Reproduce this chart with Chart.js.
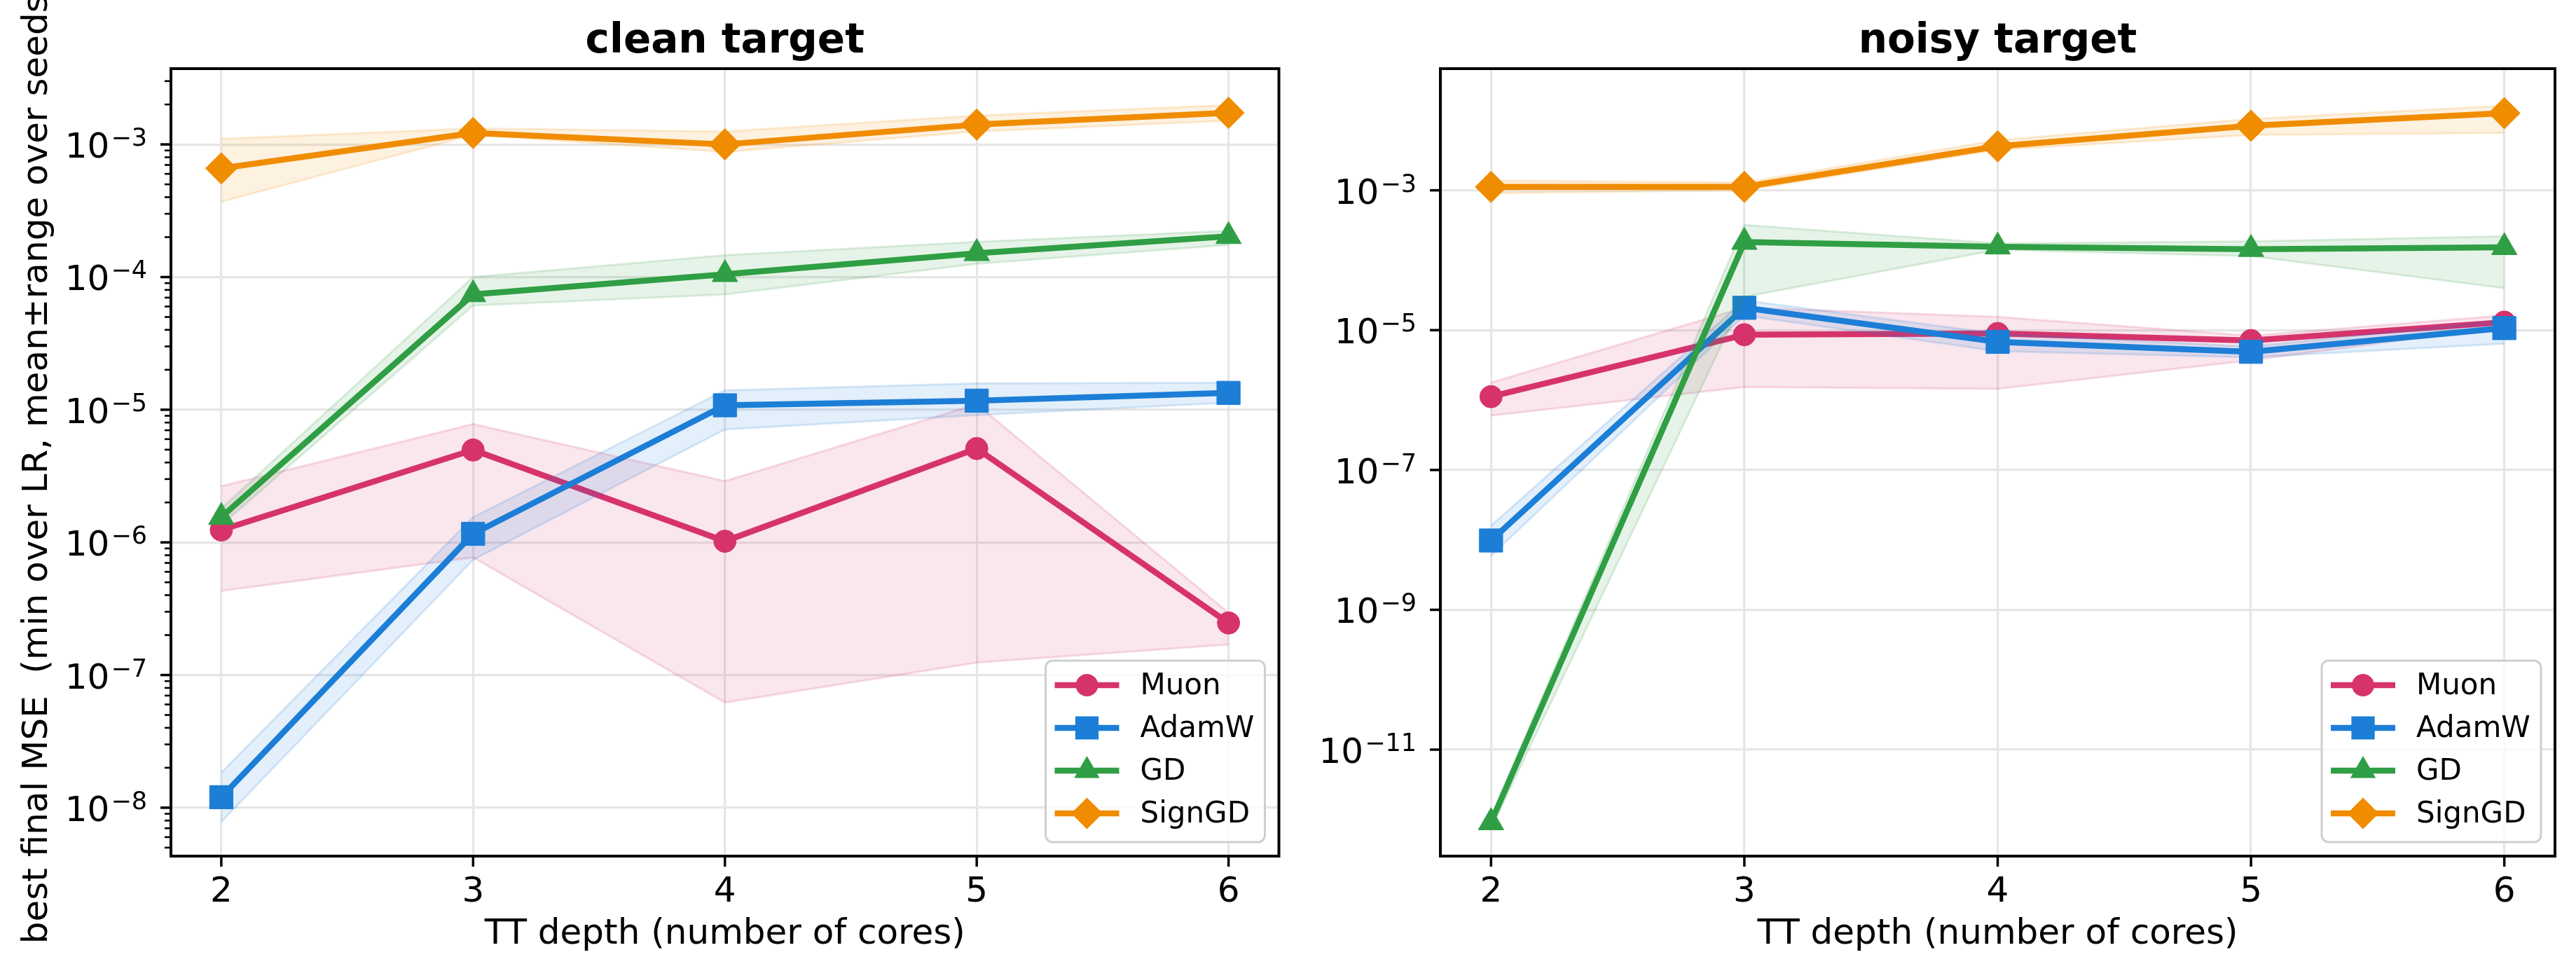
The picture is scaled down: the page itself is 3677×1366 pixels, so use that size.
<!DOCTYPE html>
<html>
<head>
<meta charset="utf-8">
<script src="https://cdn.jsdelivr.net/npm/chart.js@4.4.1/dist/chart.umd.min.js"></script>
<style>
  html, body { margin: 0; padding: 0; background: #fff; }
  #wrap { position: relative; width: 3677px; height: 1366px; overflow: hidden; }
  canvas { position: absolute; top: 0; }
</style>
</head>
<body>
<div id="wrap">
  <canvas id="chartClean" width="1850" height="1366" style="left:0px"></canvas>
  <canvas id="chartNoisy" width="1827" height="1366" style="left:1850px"></canvas>
</div>
<script>
// values (log scale, mean and min/max over seeds)
const depths = [2, 3, 4, 5, 6];
const seriesNames = ["Muon", "AdamW", "GD", "SignGD"];

// clean target
const cleanMuon = [1.24e-6, 4.97e-6, 1.02e-6, 5.1e-6, 2.47e-7];
const cleanMuonLo = [4.3e-7, 7.7e-7, 6.2e-8, 1.24e-7, 1.7e-7];
const cleanMuonHi = [2.65e-6, 7.8e-6, 2.9e-6, 1.1e-5, 2.95e-7];
const cleanAdamW = [1.2e-8, 1.16e-6, 1.08e-5, 1.17e-5, 1.34e-5];
const cleanAdamWLo = [7.8e-9, 7.4e-7, 7.1e-6, 9.1e-6, 1.13e-5];
const cleanAdamWHi = [1.84e-8, 1.55e-6, 1.4e-5, 1.58e-5, 1.6e-5];
const cleanGD = [1.55e-6, 7.4e-5, 1.05e-4, 1.51e-4, 2.03e-4];
const cleanGDLo = [1.35e-6, 6.1e-5, 7.4e-5, 1.26e-4, 1.75e-4];
const cleanGDHi = [1.8e-6, 1.0e-4, 1.46e-4, 1.84e-4, 2.23e-4];
const cleanSign = [6.6e-4, 1.22e-3, 1.0e-3, 1.41e-3, 1.73e-3];
const cleanSignLo = [3.7e-4, 1.18e-3, 8.8e-4, 1.25e-3, 1.51e-3];
const cleanSignHi = [1.1e-3, 1.32e-3, 1.25e-3, 1.65e-3, 1.98e-3];

// noisy target
const noisyMuon = [1.12e-6, 8.6e-6, 8.95e-6, 7.1e-6, 1.3e-5];
const noisyMuonLo = [6.0e-7, 1.53e-6, 1.45e-6, 3.7e-6, 1.13e-5];
const noisyMuonHi = [1.78e-6, 2.1e-5, 1.55e-5, 8.3e-6, 1.62e-5];
const noisyAdamW = [9.8e-9, 2.09e-5, 6.8e-6, 4.9e-6, 1.07e-5];
const noisyAdamWLo = [5.9e-9, 1.62e-5, 5.0e-6, 4.1e-6, 6.4e-6];
const noisyAdamWHi = [1.6e-8, 2.66e-5, 8.9e-6, 5.8e-6, 1.39e-5];
const noisyGD = [9.1e-13, 1.82e-4, 1.56e-4, 1.44e-4, 1.53e-4];
const noisyGDLo = [7.5e-13, 3.0e-5, 1.41e-4, 1.15e-4, 4.0e-5];
const noisyGDHi = [1.1e-12, 3.2e-4, 1.74e-4, 1.86e-4, 2.2e-4];
const noisySign = [1.12e-3, 1.12e-3, 4.27e-3, 8.4e-3, 1.27e-2];
const noisySignLo = [9.1e-4, 1.0e-3, 3.8e-3, 6.2e-3, 6.6e-3];
const noisySignHi = [1.38e-3, 1.29e-3, 5.2e-3, 1.05e-2, 1.62e-2];

// tick positions
const cleanMajorTicks = [1e-8, 1e-7, 1e-6, 1e-5, 1e-4, 1e-3];
const noisyMajorTicks = [1e-11, 1e-9, 1e-7, 1e-5, 1e-3];

const FONT = "DejaVu Sans";
const GRID = "#e6e6e6";
const COLORS = { Muon: "#d6336c", AdamW: "#1c7ed6", GD: "#2f9e44", SignGD: "#f08c00" };
const MARKERS = {
  Muon: { style: "circle", r: 16 },
  AdamW: { style: "rect", r: 23.5 },
  GD: { style: "triangle", r: 21 },
  SignGD: { style: "rectRot", r: 22.5 },
};

Chart.defaults.font.family = FONT;
Chart.defaults.color = "#000";

function rgba(hex, a) {
  const n = parseInt(hex.slice(1), 16);
  return `rgba(${(n >> 16) & 255},${(n >> 8) & 255},${n & 255},${a})`;
}

function isDecade(v) {
  const l = Math.log10(v);
  return Math.abs(l - Math.round(l)) < 1e-6;
}

// minor ticks 2..9 x 10^e that fall inside the axis range
function withMinors(majors, lo, hi) {
  const out = [];
  for (let e = Math.floor(Math.log10(lo)); e <= Math.ceil(Math.log10(hi)); e++) {
    for (let m = 1; m <= 9; m++) {
      const v = m * Math.pow(10, e);
      if (v >= lo && v <= hi) out.push(m === 1 ? majors.find((t) => Math.abs(t / v - 1) < 1e-9) || v : v);
    }
  }
  return out;
}

function pts(ys) {
  return depths.map((x, i) => ({ x, y: ys[i] }));
}

function buildDatasets(series) {
  const ds = [];
  series.forEach((s, k) => {
    const c = COLORS[s.name];
    const mk = MARKERS[s.name];
    const base = (series.length - k) * 3; // later series drawn on top
    ds.push({
      label: s.name + " hi", data: pts(s.hi), borderColor: rgba(c, 0.16), backgroundColor: rgba(c, 0.12),
      borderWidth: 3, pointRadius: 0, fill: "+1", order: base + 2,
    });
    ds.push({
      label: s.name + " lo", data: pts(s.lo), borderColor: rgba(c, 0.16),
      borderWidth: 3, pointRadius: 0, fill: false, order: base + 1,
    });
    ds.push({
      label: s.name, data: pts(s.mean), borderColor: c, backgroundColor: c, borderWidth: 8.5,
      borderJoinStyle: "round", borderCapStyle: "round",
      pointStyle: mk.style, pointRadius: mk.r, pointBorderWidth: 1, pointBorderColor: c, pointBackgroundColor: c,
      fill: false, order: base,
    });
  });
  return ds;
}

function drawMarker(ctx, style, r, x, y) {
  ctx.beginPath();
  if (style === "circle") {
    ctx.arc(x, y, r, 0, Math.PI * 2);
  } else if (style === "rect") {
    const h = r * Math.SQRT1_2;
    ctx.rect(x - h, y - h, 2 * h, 2 * h);
  } else if (style === "triangle") {
    ctx.moveTo(x, y - r);
    ctx.lineTo(x + r * 0.866, y + r * 0.5);
    ctx.lineTo(x - r * 0.866, y + r * 0.5);
    ctx.closePath();
  } else {
    ctx.moveTo(x - r, y);
    ctx.lineTo(x, y - r);
    ctx.lineTo(x + r, y);
    ctx.lineTo(x, y + r);
    ctx.closePath();
  }
  ctx.fill();
}

function drawLegend(ctx, a) {
  const w = 313, h = 259;
  const left = a.right - 20 - w, top = a.bottom - 20 - h;
  ctx.save();
  ctx.beginPath();
  ctx.roundRect(left, top, w, h, 10);
  ctx.fillStyle = "rgba(255,255,255,0.8)";
  ctx.fill();
  ctx.lineWidth = 3;
  ctx.strokeStyle = "#cfcfcf";
  ctx.stroke();
  seriesNames.forEach((name, i) => {
    const y = top + 35 + i * 61;
    const c = COLORS[name];
    ctx.strokeStyle = c;
    ctx.fillStyle = c;
    ctx.lineWidth = 8.5;
    ctx.beginPath();
    ctx.moveTo(left + 13, y);
    ctx.lineTo(left + 105, y);
    ctx.stroke();
    drawMarker(ctx, MARKERS[name].style, MARKERS[name].r, left + 59, y);
    ctx.fillStyle = "#000";
    ctx.font = `42px '${FONT}'`;
    ctx.textAlign = "left";
    ctx.textBaseline = "middle";
    ctx.fillText(name, left + 135, y + 2);
  });
  ctx.restore();
}

// "10" + raised exponent, like matplotlib mathtext
function drawPowerLabel(ctx, v, right, py) {
  const e = Math.round(Math.log10(v));
  const exp = (e < 0 ? "\u2212" : "") + Math.abs(e);
  ctx.textBaseline = "alphabetic";
  ctx.textAlign = "left";
  ctx.font = `35px '${FONT}'`;
  const wExp = ctx.measureText(exp).width;
  ctx.font = `50px '${FONT}'`;
  const wBase = ctx.measureText("10").width;
  const x0 = right - wExp - wBase - 2;
  ctx.fillText("10", x0, py + 19);
  ctx.font = `35px '${FONT}'`;
  ctx.fillText(exp, x0 + wBase + 2, py + 2);
}

// spines, tick marks, tick labels, title, y label and legend (matplotlib look)
const decoPlugin = {
  id: "deco",
  afterDatasetsDraw(chart, args, opts) {
    const ctx = chart.ctx;
    const a = chart.chartArea;
    const xs = chart.scales.x, ys = chart.scales.y;
    ctx.save();
    ctx.strokeStyle = "#000";
    ctx.fillStyle = "#000";
    ctx.lineCap = "butt";

    ctx.lineWidth = 3.5;
    xs.ticks.forEach((t) => {
      const px = xs.getPixelForValue(t.value);
      ctx.beginPath();
      ctx.moveTo(px, a.bottom);
      ctx.lineTo(px, a.bottom + 15);
      ctx.stroke();
    });
    ys.ticks.forEach((t) => {
      const py = ys.getPixelForValue(t.value);
      const major = isDecade(t.value);
      ctx.lineWidth = major ? 3.5 : 2.6;
      ctx.beginPath();
      ctx.moveTo(a.left - (major ? 15 : 9), py);
      ctx.lineTo(a.left, py);
      ctx.stroke();
      if (major) drawPowerLabel(ctx, t.value, a.left - 34, py);
    });

    ctx.lineWidth = 4;
    ctx.strokeRect(a.left, a.top, a.right - a.left, a.bottom - a.top);

    ctx.font = `bold 58px '${FONT}'`;
    ctx.textAlign = "center";
    ctx.textBaseline = "alphabetic";
    ctx.fillText(opts.title, (a.left + a.right) / 2, 75);

    if (opts.yTitle) {
      ctx.save();
      ctx.translate(67, (a.top + a.bottom) / 2);
      ctx.rotate(-Math.PI / 2);
      ctx.font = `50px '${FONT}'`;
      ctx.textAlign = "center";
      ctx.textBaseline = "alphabetic";
      ctx.fillText(opts.yTitle, 0, 0);
      ctx.restore();
    }
    ctx.restore();
    drawLegend(ctx, a);
  },
};

function makeChart(canvasId, cfg) {
  return new Chart(document.getElementById(canvasId), {
    type: "line",
    data: { datasets: buildDatasets(cfg.series) },
    options: {
      responsive: false,
      animation: false,
      layout: { padding: { left: 0, right: cfg.padRight, top: 98, bottom: 0 } },
      plugins: {
        legend: { display: false },
        tooltip: { enabled: false },
        deco: { title: cfg.title, yTitle: cfg.yTitle },
      },
      scales: {
        x: {
          type: "linear",
          min: 1.8,
          max: 6.2,
          afterBuildTicks(s) {
            s.ticks = depths.map((v) => ({ value: v }));
          },
          afterFit(s) {
            s.height = 144;
          },
          grid: { color: GRID, lineWidth: 3.2, drawTicks: false },
          border: { display: false },
          ticks: { autoSkip: false, maxRotation: 0, padding: 22, font: { size: 50 }, color: "#000", callback: (v) => String(v) },
          title: { display: true, text: "TT depth (number of cores)", font: { size: 50 }, color: "#000", padding: { top: 0, bottom: 2 } },
        },
        y: {
          type: "logarithmic",
          min: cfg.ymin,
          max: cfg.ymax,
          afterBuildTicks(s) {
            s.ticks = cfg.yticks.map((v) => ({ value: v }));
          },
          afterFit(s) {
            s.width = cfg.yWidth;
          },
          grid: {
            color: (c) => (c.tick && isDecade(c.tick.value) ? GRID : "rgba(0,0,0,0)"),
            lineWidth: 3.2,
            drawTicks: false,
          },
          border: { display: false },
          // labels drawn by the deco plugin (mathtext-style exponents)
          ticks: { display: false, autoSkip: false },
        },
      },
    },
    plugins: [decoPlugin],
  });
}

const cleanMin = Math.pow(10, -8.365), cleanMax = Math.pow(10, -2.429);
const noisyMin = Math.pow(10, -12.5), noisyMax = Math.pow(10, -1.26);

makeChart("chartClean", {
  title: "clean target",
  yTitle: "best final MSE  (min over LR, mean\u00B1range over seeds)",
  padRight: 15,
  yWidth: 244,
  ymin: cleanMin,
  ymax: cleanMax,
  yticks: withMinors(cleanMajorTicks, cleanMin, cleanMax),
  series: [
    { name: "Muon", mean: cleanMuon, lo: cleanMuonLo, hi: cleanMuonHi },
    { name: "AdamW", mean: cleanAdamW, lo: cleanAdamWLo, hi: cleanAdamWHi },
    { name: "GD", mean: cleanGD, lo: cleanGDLo, hi: cleanGDHi },
    { name: "SignGD", mean: cleanSign, lo: cleanSignLo, hi: cleanSignHi },
  ],
});

makeChart("chartNoisy", {
  title: "noisy target",
  yTitle: null,
  padRight: 30,
  yWidth: 206,
  ymin: noisyMin,
  ymax: noisyMax,
  yticks: noisyMajorTicks,
  series: [
    { name: "Muon", mean: noisyMuon, lo: noisyMuonLo, hi: noisyMuonHi },
    { name: "AdamW", mean: noisyAdamW, lo: noisyAdamWLo, hi: noisyAdamWHi },
    { name: "GD", mean: noisyGD, lo: noisyGDLo, hi: noisyGDHi },
    { name: "SignGD", mean: noisySign, lo: noisySignLo, hi: noisySignHi },
  ],
});
</script>
</body>
</html>
